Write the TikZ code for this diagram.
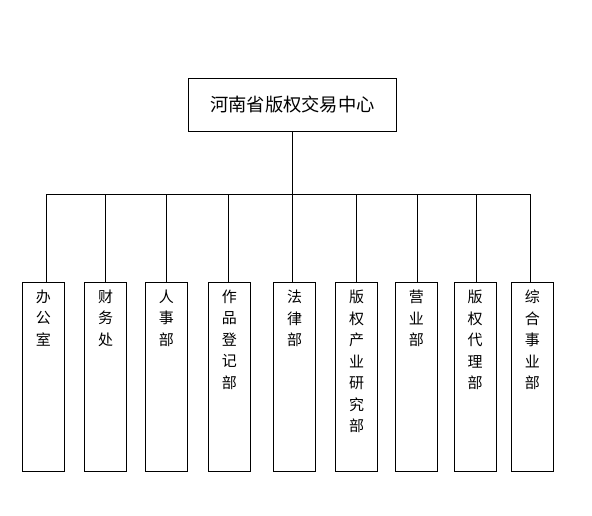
\documentclass[tikz,border=0pt]{standalone}
\usepackage{fontspec}
\newfontfamily\cjk{Noto Sans CJK SC}
\begin{document}
\begin{tikzpicture}[x=1pt,y=-1pt,
  box/.style={draw=black, line width=1pt, inner sep=0pt},
  dept/.style={box, minimum width=42pt, minimum height=189pt},
  vtext/.style={anchor=north, inner sep=0pt, align=center, font=\cjk\fontsize{15pt}{21.5pt}\selectfont},
  conn/.style={draw=black, line width=1pt}]
\useasboundingbox[fill=white] (0,0) rectangle (592,516);
\node[box, minimum width=208.4pt, minimum height=52.7pt, font=\cjk\fontsize{18.3pt}{20pt}\selectfont] (top) at (292.5,104.7) {河南省版权交易中心};
\coordinate (j) at (292.5,195);
\foreach \n/\x in {1/43.3,2/105.5,3/166.3,4/229.3,5/294.5,6/356.5,7/416.3,8/475.2,9/532.3}{
  \node[dept] (b\n) at (\x,376.7) {};
}
\node[vtext] (t1) at ([yshift=-8pt]b1.north) {办\\公\\室};
\node[vtext] (t2) at ([yshift=-8pt]b2.north) {财\\务\\处};
\node[vtext] (t3) at ([yshift=-8pt]b3.north) {人\\事\\部};
\node[vtext] (t4) at ([yshift=-8pt]b4.north) {作\\品\\登\\记\\部};
\node[vtext] (t5) at ([yshift=-8pt]b5.north) {法\\律\\部};
\node[vtext] (t6) at ([yshift=-8pt]b6.north) {版\\权\\产\\业\\研\\究\\部};
\node[vtext] (t7) at ([yshift=-8pt]b7.north) {营\\业\\部};
\node[vtext] (t8) at ([yshift=-8pt]b8.north) {版\\权\\代\\理\\部};
\node[vtext] (t9) at ([yshift=-8pt]b9.north) {综\\合\\事\\业\\部};
\draw[conn] (top.south) -- (j);
\coordinate (l1) at ([xshift=2.7pt]b1.north);
\coordinate (l9) at ([xshift=-2pt]b9.north);
\draw[conn] (l1) -- (l1 |- j) -- (l9 |- j) -- (l9);
\foreach \n/\dx in {2/0,3/0,4/-1,5/-2.2,6/0,7/0.7,8/1.1}{
  \draw[conn] ([xshift=\dx pt]b\n.north) -- ([xshift=\dx pt]b\n.north |- j);
}
\end{tikzpicture}
\end{document}
